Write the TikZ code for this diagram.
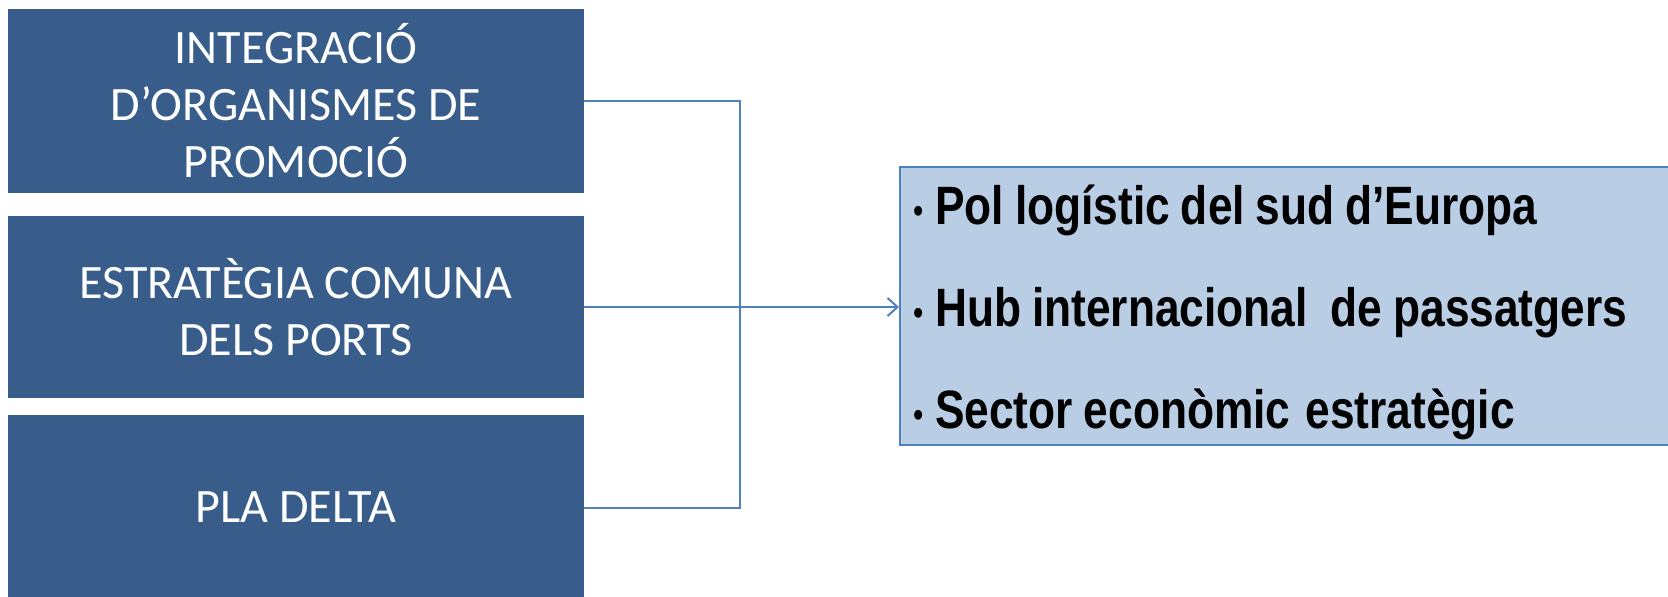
\documentclass[tikz,border=0pt]{standalone}
\usepackage{fontspec}
\setmainfont{Carlito}
\newfontfamily\listfont[FakeStretch=0.82,WordSpace=0.89]{Liberation Sans}
\usetikzlibrary{positioning,arrows.meta}

\definecolor{boxblue}{RGB}{56,93,138}
\definecolor{paleblue}{RGB}{185,205,229}
\definecolor{lineblue}{RGB}{79,129,189}

\tikzset{
  actionbox/.style={fill=boxblue, text=white, minimum width=287.75pt, inner sep=0pt,
    align=center, font=\fontsize{24}{28.5}\selectfont},
  goalbox/.style={fill=paleblue, draw=lineblue, line width=1pt, anchor=west,
    minimum height=139pt, minimum width=400pt},
  goaltext/.style={anchor=west, inner sep=0pt, align=left,
    font=\listfont\bfseries\fontsize{27}{51}\selectfont},
  link/.style={lineblue, line width=1pt}
}
\newcommand{\goalitem}[1]{\raisebox{1pt}{\fontsize{17}{17}\selectfont\textbullet}\hspace{6pt}#1}

\begin{document}
\begin{tikzpicture}[x=0.5pt,y=-0.5pt]
	\useasboundingbox (0,0) rectangle (1668,596);
	% blocs de l'esquerra
	\node[actionbox, minimum height=92pt] (promo) at (296,100.5) {INTEGRACIÓ\\D’ORGANISMES DE\\PROMOCIÓ};
	\node[actionbox, minimum height=91pt] (estrategia) at (296,307) {ESTRATÈGIA COMUNA\\DELS PORTS};
	\node[actionbox, minimum height=92.5pt] (delta) at (296,507.5) {PLA DELTA};
	% objectius
	\node[goalbox] (objectius) at (899,306) {};
	\node[goaltext] (llista) at (913,312) {\goalitem{Pol logístic del sud d’Europa}\\
		\goalitem{Hub internacional\hspace{6pt} de passatgers}\\
		\goalitem{Sector econòmic\hspace{2pt} estratègic}};
	% connectors
	\coordinate (unio) at (740,307);
	\draw[link] (promo.east) -| (unio) |- (delta.east);
	\draw[link,-{Straight Barb[length=5pt,width=9pt]}] (estrategia.east) -- (estrategia.east -| objectius.west);
\end{tikzpicture}
\end{document}
